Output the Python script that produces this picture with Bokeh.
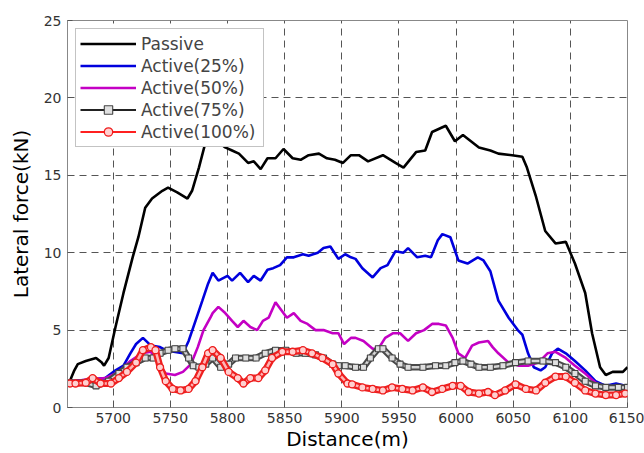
from bokeh.plotting import figure
from bokeh.models import Legend, LegendItem, FixedTicker, Range1d
from bokeh.embed import file_html
from bokeh.resources import INLINE

# ---------------- data ----------------
x_ticks = [5700, 5750, 5800, 5850, 5900, 5950, 6000, 6050, 6100, 6150]
y_ticks = [0, 5, 10, 15, 20, 25]

passive_x = [5662, 5666, 5669, 5676, 5685, 5690, 5692, 5696, 5702, 5709, 5717, 5722, 5728, 5734,
             5743, 5748, 5756, 5765, 5769, 5775, 5781, 5785, 5789, 5793, 5798, 5804, 5810, 5818,
             5823, 5829, 5835, 5842, 5849, 5857, 5864, 5871, 5880, 5887, 5894, 5901, 5908, 5915,
             5923, 5936, 5947, 5954, 5965, 5973, 5979, 5991, 5999, 6006, 6020, 6030, 6037, 6049,
             6058, 6062, 6070, 6078, 6087, 6096, 6104, 6113, 6119, 6126, 6131, 6137, 6146, 6150]
passive_y = [1.7, 2.4, 2.8, 3.0, 3.2, 2.9, 2.7, 3.2, 5.2, 7.4, 9.7, 11.0, 12.9, 13.5,
             14.0, 14.2, 13.9, 13.5, 14.0, 15.5, 17.2, 18.2, 17.8, 17.1, 16.8, 16.6, 16.4, 15.8,
             15.9, 15.4, 16.1, 16.1, 16.7, 16.1, 16.0, 16.3, 16.4, 16.1, 16.0, 15.8, 16.3, 16.3,
             15.9, 16.3, 15.8, 15.5, 16.5, 16.6, 17.8, 18.2, 17.2, 17.6, 16.8, 16.6, 16.4, 16.3,
             16.2, 15.5, 13.6, 11.4, 10.6, 10.7, 9.3, 7.4, 4.8, 2.6, 2.1, 2.3, 2.3, 2.6]

a25_x = [5662, 5680, 5693, 5702, 5709, 5715, 5720, 5726, 5733, 5741, 5746, 5753, 5761, 5766,
         5772, 5778, 5783, 5787, 5792, 5800, 5804, 5811, 5818, 5823, 5829, 5835, 5840, 5846,
         5852, 5858, 5866, 5871, 5879, 5884, 5890, 5897, 5903, 5908, 5912, 5918, 5927, 5934,
         5940, 5947, 5954, 5958, 5966, 5973, 5978, 5984, 5988, 5995, 6002, 6010, 6019, 6024,
         6030, 6037, 6046, 6054, 6058, 6063, 6068, 6074, 6078, 6084, 6089, 6096, 6104, 6113,
         6122, 6131, 6140, 6148]
a25_y = [1.7, 1.8, 1.9, 2.4, 2.7, 3.5, 4.1, 4.5, 4.0, 3.9, 3.7, 3.6, 3.5, 4.3,
         5.6, 6.9, 8.0, 8.7, 8.2, 8.5, 8.2, 8.7, 8.1, 8.5, 8.2, 8.9, 9.0, 9.2,
         9.7, 9.7, 9.9, 9.8, 10.0, 10.3, 10.4, 9.6, 9.9, 9.7, 9.6, 9.0, 8.4, 9.0,
         9.2, 10.1, 10.0, 10.3, 9.7, 9.8, 9.7, 10.8, 11.2, 11.0, 9.5, 9.3, 9.7, 9.5,
         8.8, 6.9, 5.8, 5.0, 4.7, 3.5, 2.6, 2.4, 2.6, 3.5, 3.8, 3.5, 3.0, 2.4,
         1.7, 1.4, 1.55, 1.4]

a50_x = [5662, 5693, 5705, 5715, 5725, 5733, 5740, 5746, 5754, 5761, 5768, 5774, 5779, 5785,
         5787, 5792, 5798, 5804, 5809, 5814, 5820, 5826, 5831, 5836, 5842, 5846, 5852, 5858,
         5864, 5870, 5877, 5884, 5892, 5897, 5902, 5908, 5912, 5919, 5927, 5932, 5938, 5945,
         5951, 5958, 5965, 5972, 5979, 5985, 5991, 5997, 6002, 6008, 6014, 6020, 6028, 6032,
         6037, 6046, 6055, 6063, 6072, 6080, 6087, 6096, 6104, 6113, 6122, 6131, 6150]
a50_y = [1.7, 1.9, 2.3, 3.0, 3.5, 3.6, 2.8, 2.2, 2.1, 2.3, 2.8, 3.9, 5.0, 5.8,
         6.1, 6.5, 6.1, 5.6, 5.2, 5.6, 5.2, 5.0, 5.6, 5.8, 6.8, 6.4, 5.8, 6.1,
         5.6, 5.4, 5.0, 5.0, 4.8, 4.8, 4.1, 4.5, 4.5, 4.3, 3.8, 3.8, 4.5, 4.8,
         4.8, 4.3, 4.8, 5.0, 5.4, 5.4, 5.3, 4.5, 3.5, 3.2, 4.0, 4.2, 4.3, 3.9,
         3.5, 2.9, 2.7, 2.7, 2.9, 3.5, 3.6, 3.2, 2.7, 2.2, 1.6, 1.3, 1.3]

a75_x = [5662, 5675, 5685, 5696, 5705, 5712, 5720, 5728, 5735, 5741, 5748, 5754, 5761, 5766,
         5770, 5775, 5781, 5787, 5794, 5801, 5807, 5816, 5825, 5833, 5842, 5851, 5860, 5868,
         5877, 5884, 5892, 5897, 5903, 5912, 5919, 5925, 5932, 5936, 5944, 5951, 5958, 5971,
         5982, 5991, 5999, 6006, 6013, 6020, 6030, 6041, 6052, 6063, 6076, 6087, 6096, 6104,
         6113, 6122, 6131, 6142, 6150]
a75_y = [1.6, 1.6, 1.4, 1.7, 2.2, 2.6, 2.9, 3.2, 3.2, 3.5, 3.7, 3.8, 3.8, 3.2,
         2.7, 2.6, 2.8, 3.2, 2.6, 2.8, 3.2, 3.2, 3.2, 3.5, 3.7, 3.7, 3.5, 3.5,
         3.4, 3.2, 2.8, 2.7, 2.7, 2.6, 2.6, 3.2, 3.8, 3.8, 3.2, 2.8, 2.6, 2.6,
         2.7, 2.7, 2.9, 3.0, 2.8, 2.6, 2.6, 2.7, 2.9, 3.0, 3.0, 2.9, 2.6, 2.2,
         1.7, 1.4, 1.3, 1.3, 1.3]

a100_x = [5662, 5667, 5676, 5682, 5689, 5698, 5705, 5712, 5720, 5726, 5733, 5737, 5741, 5746,
          5752, 5759, 5766, 5772, 5778, 5783, 5787, 5794, 5801, 5809, 5814, 5820, 5827, 5833,
          5839, 5848, 5857, 5866, 5874, 5883, 5892, 5897, 5905, 5909, 5918, 5927, 5936, 5944,
          5953, 5962, 5971, 5979, 5988, 5997, 6004, 6011, 6020, 6028, 6034, 6043, 6052, 6061,
          6070, 6078, 6087, 6096, 6104, 6113, 6122, 6131, 6140, 6148]
a100_y = [1.55, 1.55, 1.6, 1.9, 1.55, 1.55, 1.9, 2.3, 2.9, 3.7, 3.9, 3.7, 2.6, 1.7,
          1.2, 1.1, 1.2, 1.7, 2.6, 3.5, 3.7, 3.2, 2.3, 1.9, 1.55, 1.9, 1.9, 2.4,
          3.2, 3.6, 3.6, 3.7, 3.5, 3.2, 2.8, 2.2, 1.55, 1.5, 1.3, 1.2, 1.1, 1.3,
          1.2, 1.1, 1.3, 1.0, 1.2, 1.4, 1.4, 1.0, 0.9, 1.0, 0.8, 1.1, 1.5, 1.2,
          1.1, 1.6, 2.0, 2.0, 1.6, 1.1, 0.9, 0.8, 0.8, 0.9]

labels = ["Passive", "Active(25%)", "Active(50%)", "Active(75%)", "Active(100%)"]

FONT = "DejaVu Sans"

# ---------------- figure ----------------
p = figure(width=644, height=453,
           x_range=Range1d(5660, 6150), y_range=Range1d(0, 25),
           output_backend="svg", toolbar_location=None,
           min_border_left=67, min_border_right=17, min_border_top=20, min_border_bottom=46)
p.background_fill_color = "white"
p.border_fill_color = "white"
p.outline_line_color = "#888888"
p.outline_line_width = 1

for ax in (p.xaxis[0], p.yaxis[0]):
    ax.major_label_text_font = FONT
    ax.major_label_text_font_size = "14px"
    ax.major_label_text_color = "#333333"
    ax.major_tick_in = 5
    ax.major_tick_out = 0
    ax.minor_tick_line_color = None
    ax.axis_line_color = "#888888"
    ax.major_tick_line_color = "#555555"
    ax.axis_label_text_font = FONT
    ax.axis_label_text_font_size = "20px"
    ax.axis_label_text_font_style = "normal"
    ax.axis_label_text_color = "black"

p.xaxis.ticker = FixedTicker(ticks=x_ticks)
p.yaxis.ticker = FixedTicker(ticks=y_ticks)
p.xaxis.major_label_standoff = 5
p.yaxis.major_label_standoff = 6

p.yaxis.axis_label = "Lateral force(kN)"
p.yaxis.axis_label_standoff = 8
p.xaxis.axis_label = "Distance(m)"
p.xaxis.axis_label_standoff = 1

for g in (p.xgrid[0], p.ygrid[0]):
    g.grid_line_color = "#555555"
    g.grid_line_dash = "7 5"
    g.grid_line_width = 1

# ---------------- series ----------------
r_p = p.line(passive_x, passive_y, line_color="black", line_width=2.6)
r_b = p.line(a25_x, a25_y, line_color="#0000dd", line_width=2.6)
r_m = p.line(a50_x, a50_y, line_color="#c400c4", line_width=2.6)

# Active(75%): thin line (used for legend) under a dense marker band
r_g = p.line(a75_x, a75_y, line_color="#222222", line_width=2)
p.line(a75_x, a75_y, line_color="#4a4a4a", line_width=6.5, line_join="round")
p.line(a75_x, a75_y, line_color="#d6d6d6", line_width=2.5, line_join="round")
s_g = p.scatter(a75_x, a75_y, marker="square", size=6, line_color="#444444",
                fill_color="#e0e0e0", line_width=1.1)

# Active(100%): thin line (used for legend) under a dense marker band
r_r = p.line(a100_x, a100_y, line_color="#ff2020", line_width=2)
p.line(a100_x, a100_y, line_color="#ee2020", line_width=7, line_join="round")
p.line(a100_x, a100_y, line_color="#ffb4b4", line_width=2.5, line_join="round")
s_r = p.scatter(a100_x, a100_y, marker="circle", size=7, line_color="#ee1c1c",
                fill_color="#ffd0d0", line_width=1.3)

legend = Legend(items=[
    LegendItem(label=labels[0], renderers=[r_p]),
    LegendItem(label=labels[1], renderers=[r_b]),
    LegendItem(label=labels[2], renderers=[r_m]),
    LegendItem(label=labels[3], renderers=[r_g, s_g]),
    LegendItem(label=labels[4], renderers=[r_r, s_r]),
], location="top_left")
legend.margin = 8
legend.padding = 4
legend.spacing = 1
legend.glyph_width = 56
legend.glyph_height = 21
legend.label_height = 21
legend.label_standoff = 5
legend.label_width = 118
legend.label_text_font = FONT
legend.label_text_font_size = "17px"
legend.border_line_color = "#888888"
legend.border_line_width = 1
legend.background_fill_alpha = 1
p.add_layout(legend)

open("out.html", "w").write(file_html(p, INLINE))
